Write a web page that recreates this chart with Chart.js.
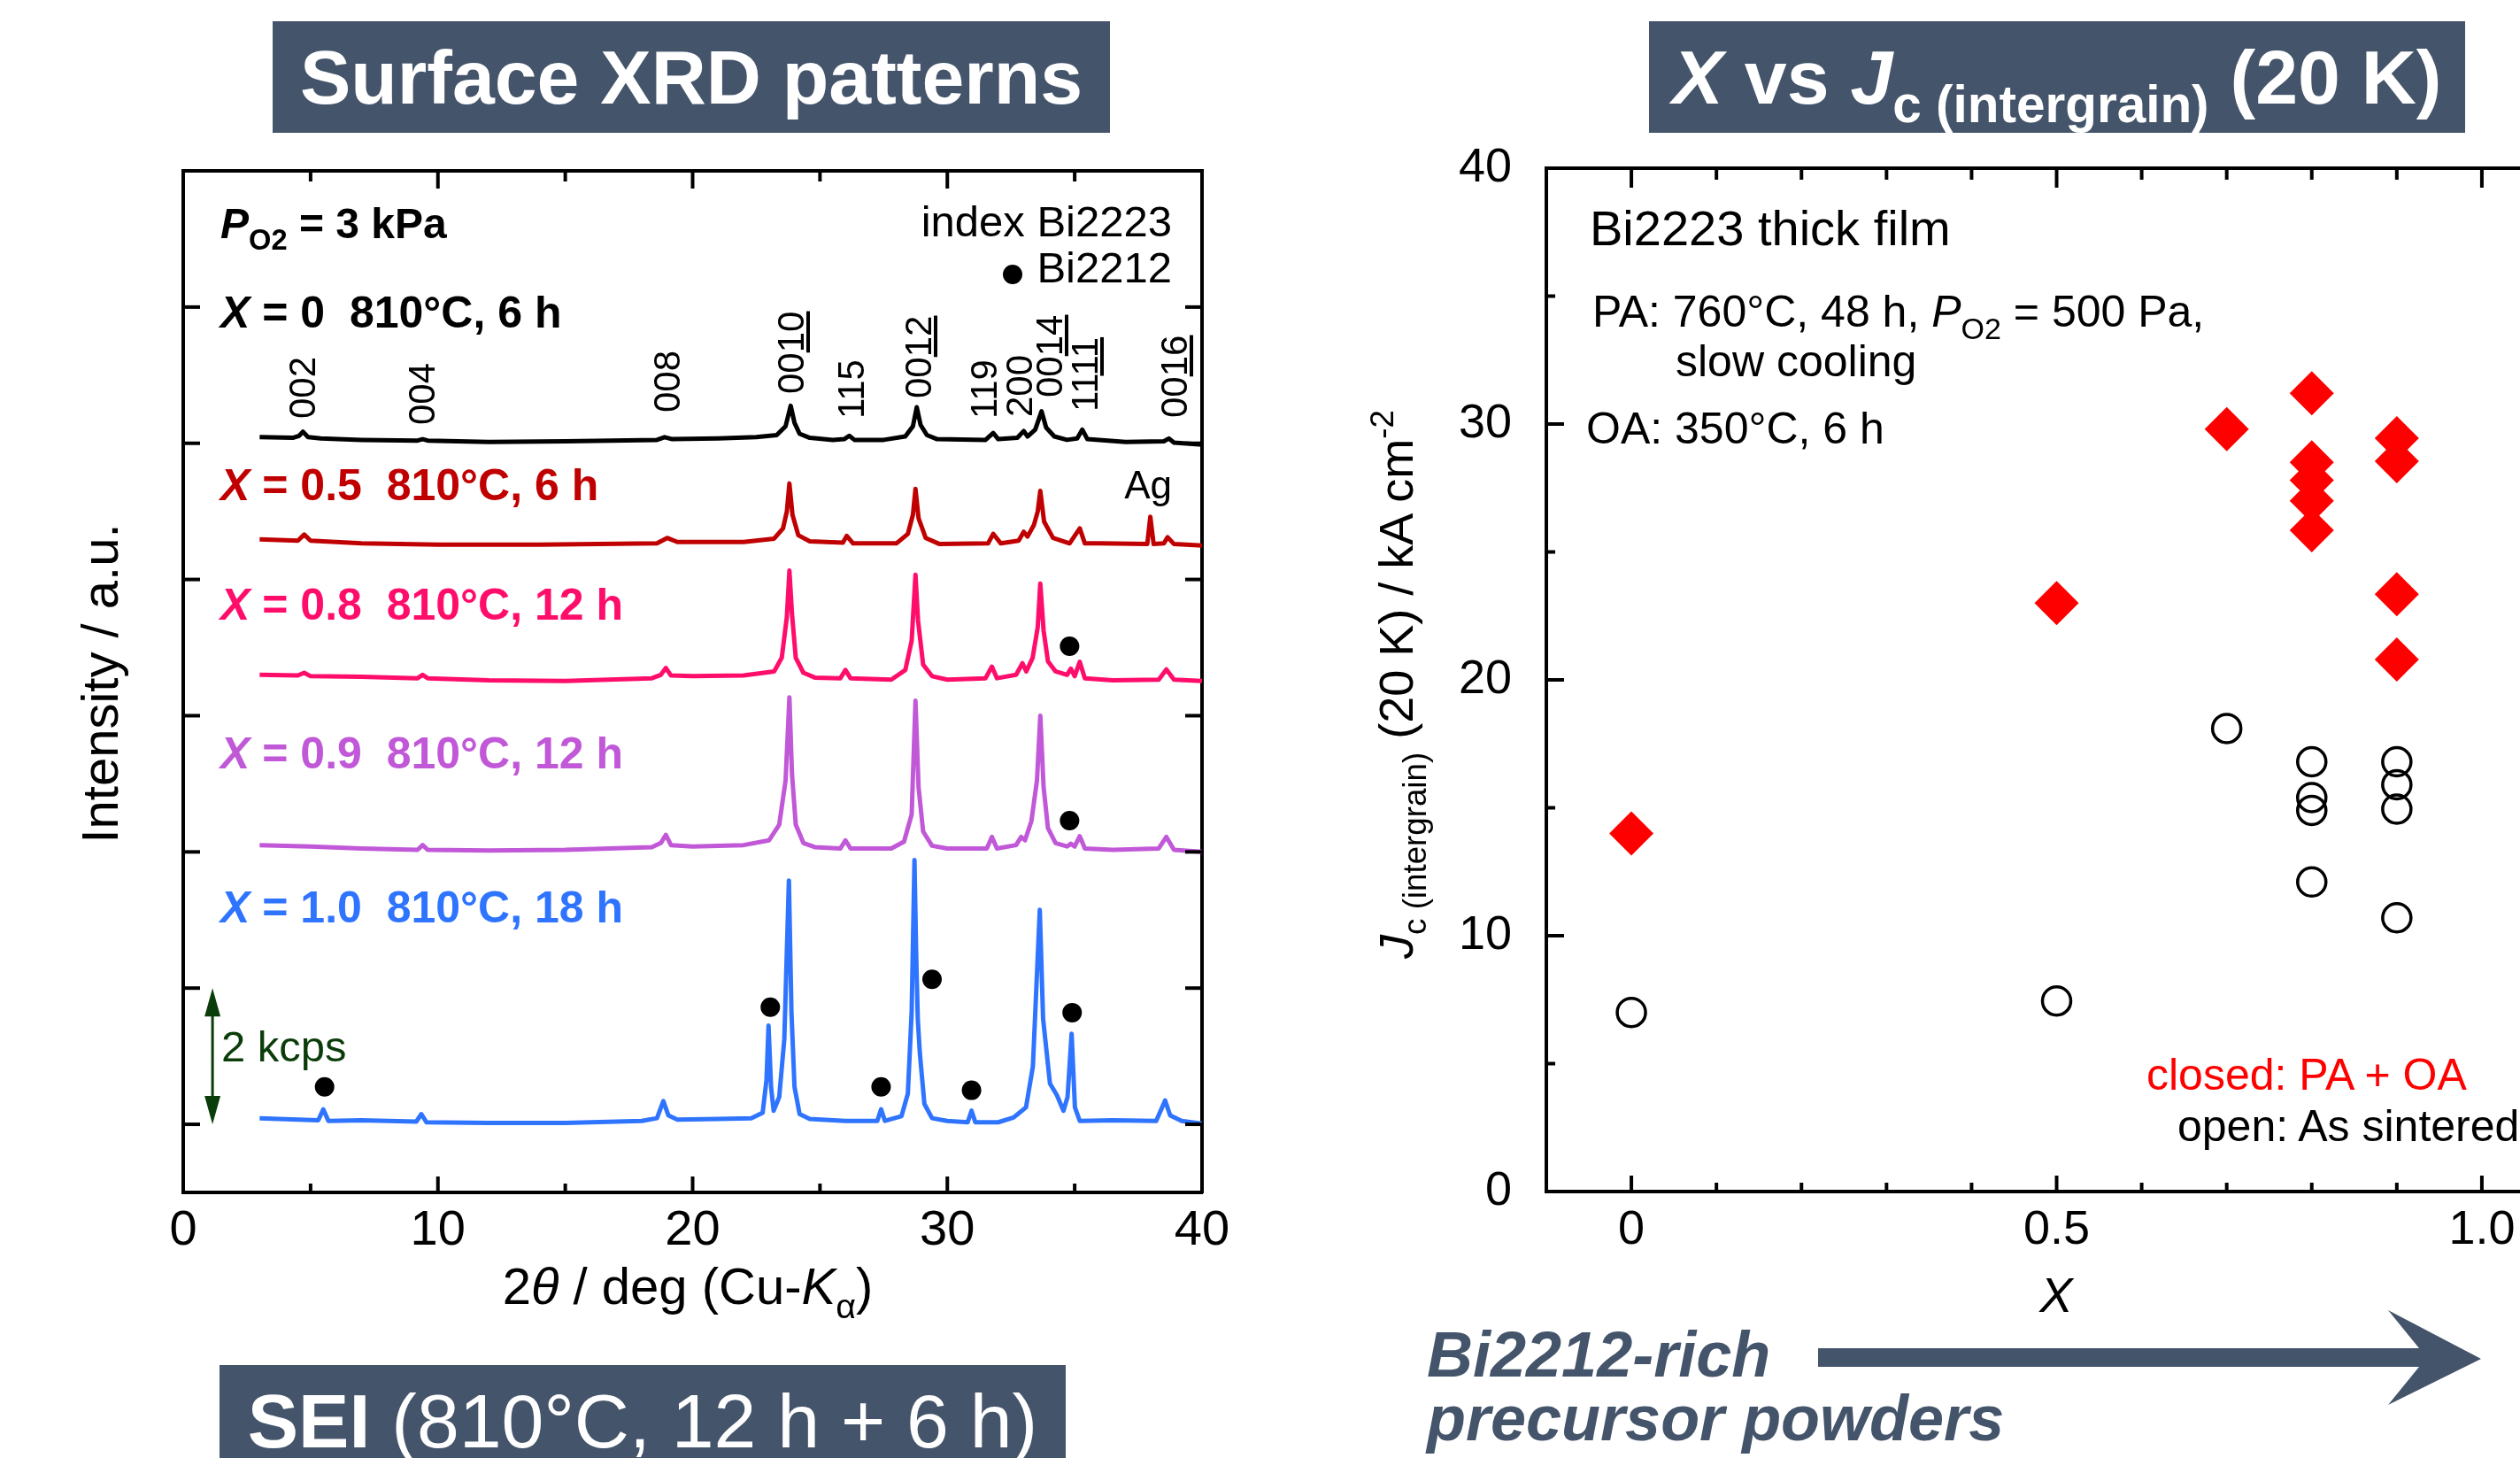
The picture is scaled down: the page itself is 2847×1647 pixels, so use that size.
<!DOCTYPE html>
<html>
<head>
<meta charset="utf-8">
<script src="https://cdn.jsdelivr.net/npm/chart.js@4.4.1/dist/chart.umd.min.js"></script>
<style>
  html, body { margin: 0; padding: 0; background: #fff; }
  #stage { position: relative; width: 2847px; height: 1647px; overflow: hidden; font-family: 'Liberation Sans', Arial, sans-serif; }
  canvas { position: absolute; }
  .t { position: absolute; white-space: nowrap; line-height: 1; color: #000; }
  .t sub { font-size: 0.68em; vertical-align: -0.4em; line-height: 0; }
  .t sup { font-size: 0.68em; vertical-align: 0.6em; line-height: 0; }
  .box { position: absolute; background: #44546a; }
  .dot { display: inline-block; width: 22px; height: 22px; border-radius: 50%; background: #000; vertical-align: -2px; margin-right: 16px; }
</style>
</head>
<body>
<div id="stage">
  <canvas id="xrd" width="1420" height="1420" style="left:0;top:0"></canvas>
  <canvas id="jc" width="1450" height="1420" style="left:1500px;top:0"></canvas>
  <div class="box" style="left:308px;top:24px;width:946px;height:126px"></div>
  <div class="box" style="left:1863px;top:24px;width:922px;height:126px"></div>
  <div class="box" style="left:248px;top:1542px;width:956px;height:140px"></div>
  <svg style="position:absolute;left:0;top:0" width="2847" height="1647">
    <polygon points="2054,1523 2733,1523 2698,1480 2803,1535 2698,1587 2733,1544 2054,1544" fill="#44546a"/>
  </svg>
</div>
<script>
// ---- XRD patterns: [2theta (deg), intensity above own baseline (kcps)]
const patX00 = [[3.0,0.04],[4.3,0.03],[4.55,0.06],[4.7,0.12],[4.9,0.04],[5.4,0.02],[7.0,0.0],[9.2,-0.01],[9.4,0.01],[9.6,-0.01],[12.0,-0.03],[15.0,-0.02],[18.6,0.0],[18.9,0.04],[19.2,0.01],[21.0,0.02],[22.5,0.04],[23.3,0.07],[23.65,0.2],[23.85,0.5],[24.0,0.25],[24.2,0.09],[24.6,0.03],[25.5,0.0],[25.95,0.01],[26.15,0.06],[26.35,0.0],[27.5,0.0],[28.35,0.05],[28.65,0.2],[28.8,0.48],[28.95,0.22],[29.2,0.07],[29.6,0.01],[31.5,0.0],[31.8,0.1],[32.0,0.01],[32.75,0.03],[33.0,0.13],[33.15,0.05],[33.45,0.15],[33.7,0.42],[33.88,0.18],[34.2,0.05],[34.7,0.0],[35.1,0.02],[35.3,0.15],[35.5,0.01],[37.0,-0.03],[38.5,-0.02],[38.7,0.02],[38.9,-0.04],[40.0,-0.07]];
const patX05 = [[3.0,0.04],[4.5,0.02],[4.75,0.11],[5.0,0.02],[7.0,-0.02],[10.0,-0.04],[14.0,-0.04],[18.6,-0.02],[19.0,0.06],[19.4,0.0],[22.0,0.0],[23.2,0.05],[23.55,0.2],[23.7,0.45],[23.8,0.86],[23.92,0.4],[24.15,0.1],[24.6,0.01],[25.9,-0.01],[26.05,0.09],[26.3,-0.02],[28.0,-0.02],[28.45,0.12],[28.65,0.4],[28.75,0.78],[28.87,0.35],[29.15,0.06],[29.7,-0.03],[31.6,-0.02],[31.8,0.12],[32.1,-0.02],[32.8,0.02],[33.0,0.15],[33.15,0.08],[33.4,0.25],[33.55,0.45],[33.65,0.75],[33.8,0.3],[34.15,0.06],[34.8,-0.02],[35.2,0.2],[35.4,-0.02],[36.0,-0.02],[37.85,-0.03],[37.97,0.37],[38.1,-0.03],[38.5,-0.02],[38.65,0.07],[38.9,-0.03],[40.0,-0.05]];
const patX08 = [[3.0,0.05],[4.5,0.04],[4.75,0.08],[5.0,0.03],[7.0,0.02],[9.2,0.0],[9.4,0.05],[9.6,0.0],[12.0,-0.03],[15.0,-0.04],[18.4,0.0],[18.75,0.05],[18.95,0.15],[19.15,0.04],[20.0,0.03],[22.0,0.04],[23.2,0.1],[23.5,0.3],[23.7,0.9],[23.8,1.58],[23.9,0.95],[24.05,0.3],[24.35,0.08],[24.8,0.01],[25.8,0.0],[26.0,0.12],[26.2,0.0],[27.8,-0.02],[28.35,0.12],[28.6,0.55],[28.75,1.52],[28.85,0.85],[29.05,0.2],[29.4,0.03],[30.0,-0.02],[31.5,0.0],[31.75,0.17],[31.95,0.0],[32.7,0.05],[32.95,0.22],[33.1,0.1],[33.35,0.3],[33.55,0.75],[33.65,1.39],[33.78,0.7],[33.95,0.25],[34.25,0.1],[34.7,0.05],[34.85,0.14],[35.0,0.03],[35.2,0.24],[35.4,0.0],[36.5,-0.03],[38.3,-0.02],[38.6,0.13],[38.9,-0.02],[40.0,-0.04]];
const patX09 = [[3.0,0.05],[5.0,0.03],[7.0,0.0],[9.2,-0.02],[9.4,0.05],[9.6,-0.02],[12.0,-0.03],[15.0,-0.02],[18.4,0.02],[18.75,0.08],[18.95,0.2],[19.15,0.05],[20.0,0.03],[22.0,0.05],[23.0,0.12],[23.4,0.35],[23.65,1.0],[23.8,2.22],[23.9,1.1],[24.05,0.35],[24.35,0.08],[24.8,0.02],[25.8,0.0],[26.0,0.12],[26.2,0.0],[27.8,0.0],[28.3,0.1],[28.6,0.5],[28.75,2.17],[28.87,0.9],[29.05,0.25],[29.4,0.04],[30.0,0.0],[31.55,0.0],[31.75,0.17],[31.95,0.0],[32.7,0.05],[32.9,0.17],[33.05,0.12],[33.3,0.4],[33.52,1.0],[33.65,1.95],[33.78,0.9],[33.95,0.3],[34.25,0.08],[34.7,0.03],[34.85,0.07],[35.0,0.03],[35.2,0.18],[35.4,0.0],[36.5,-0.02],[38.3,0.0],[38.6,0.17],[38.9,-0.02],[40.0,-0.05]];
const patX10 = [[3.0,0.04],[5.3,0.01],[5.5,0.17],[5.7,0.0],[7.0,0.01],[9.15,-0.01],[9.35,0.1],[9.55,-0.02],[12.0,-0.03],[15.0,-0.03],[18.0,0.0],[18.6,0.04],[18.85,0.29],[19.05,0.08],[19.4,0.02],[21.0,0.03],[22.3,0.04],[22.75,0.12],[22.9,0.6],[22.98,1.4],[23.08,0.5],[23.18,0.15],[23.4,0.35],[23.6,1.2],[23.78,3.53],[23.88,1.6],[24.0,0.5],[24.2,0.1],[24.6,0.03],[26.0,0.0],[27.25,0.0],[27.4,0.17],[27.55,0.0],[28.2,0.07],[28.45,0.4],[28.6,1.6],[28.71,3.83],[28.78,2.4],[28.84,1.5],[28.92,1.0],[29.1,0.25],[29.4,0.04],[30.0,0.0],[30.8,-0.02],[30.95,0.15],[31.1,-0.02],[32.0,-0.02],[32.6,0.05],[32.83,0.12],[33.09,0.2],[33.36,0.8],[33.63,3.1],[33.76,1.5],[34.03,0.55],[34.3,0.38],[34.56,0.15],[34.72,0.35],[34.88,1.28],[35.01,0.2],[35.2,0.0],[36.5,0.01],[38.2,0.0],[38.55,0.3],[38.75,0.08],[39.2,0.0],[40.0,-0.04]];

const patterns = [patX00, patX05, patX08, patX09, patX10];
const patternOffset = [11.05, 9.55, 7.55, 5.05, 1.05];   // kcps, vertical stacking
const patternColor = ['#000000', '#c00000', '#ff0d6a', '#c158d8', '#2f74ff'];

// Bi2212 reflections marked with a dot (2theta, kcps on the stacked axis)
const bi2212Angle = [34.8, 34.8, 5.55, 23.05, 27.4, 29.4, 30.95, 34.9];
const bi2212Level = [8.02, 5.46, 1.55, 2.72, 1.55, 3.13, 1.5, 2.64];

const xrdXTicks = [0, 5, 10, 15, 20, 25, 30, 35, 40];
const xrdYTicks = [1, 3, 5, 7, 9, 11, 13];

// hkl index labels (Bi2223) and the 2theta they sit over
const hklText = ['002', '004', '008', '00<u>10</u>', '115', '00<u>12</u>', '119', '200', '00<u>14</u>', '11<u>11</u>', '00<u>16</u>'];
const hklAngle = [4.66, 9.38, 19.01, 23.87, 26.24, 28.88, 31.45, 32.84, 34.02, 35.41, 38.92];

// ---- Jc(intergrain) at 20 K vs X
const closedX  = [0, 0.5, 0.7, 0.8, 0.8, 0.8, 0.8, 0.8, 0.9, 0.9, 0.9, 0.9];
const closedJc = [14.0, 23.0, 29.8, 31.2, 28.5, 27.8, 27.0, 25.85, 29.45, 28.55, 23.35, 20.8];
const openX  = [0, 0.5, 0.7, 0.8, 0.8, 0.8, 0.8, 0.9, 0.9, 0.9, 0.9];
const openJc = [7.0, 7.45, 18.1, 16.8, 15.4, 14.9, 12.1, 16.8, 15.9, 14.95, 10.7];

const jcXTicks = [-0.1, 0, 0.1, 0.2, 0.3, 0.4, 0.5, 0.6, 0.7, 0.8, 0.9, 1.0, 1.1];
const jcYTicks = [0, 5, 10, 15, 20, 25, 30, 35, 40];

// ticks drawn inward, majors longer
function inwardTicks(spec) {
  return {
    id: 'inwardTicks',
    afterDraw(chart) {
      const { ctx, chartArea: a } = chart;
      ctx.save();
      ctx.strokeStyle = '#000';
      ctx.lineWidth = 4;
      for (const id in spec) {
        const s = chart.scales[id], sp = spec[id];
        for (const t of s.ticks) {
          const p = s.getPixelForValue(t.value);
          const len = sp.major(t.value) ? sp.long : sp.short;
          ctx.beginPath();
          if (s.position === 'bottom') { ctx.moveTo(p, a.bottom); ctx.lineTo(p, a.bottom - len); }
          else if (s.position === 'top') { ctx.moveTo(p, a.top); ctx.lineTo(p, a.top + len); }
          else if (s.position === 'left') { ctx.moveTo(a.left, p); ctx.lineTo(a.left + len, p); }
          else { ctx.moveTo(a.right, p); ctx.lineTo(a.right - len, p); }
          ctx.stroke();
        }
      }
      ctx.restore();
    }
  };
}

// 2 kcps scale bar
const kcpsBar = {
  id: 'kcpsBar',
  afterDraw(chart) {
    const { ctx } = chart;
    const x = chart.scales.x.getPixelForValue(1.15);
    const y1 = chart.scales.y.getPixelForValue(3), y0 = chart.scales.y.getPixelForValue(1);
    ctx.save();
    ctx.strokeStyle = ctx.fillStyle = '#0b3d0b';
    ctx.lineWidth = 3;
    ctx.beginPath(); ctx.moveTo(x, y1 + 20); ctx.lineTo(x, y0 - 20); ctx.stroke();
    ctx.beginPath(); ctx.moveTo(x, y1); ctx.lineTo(x - 9, y1 + 32); ctx.lineTo(x + 9, y1 + 32); ctx.closePath(); ctx.fill();
    ctx.beginPath(); ctx.moveTo(x, y0); ctx.lineTo(x - 9, y0 - 32); ctx.lineTo(x + 9, y0 - 32); ctx.closePath(); ctx.fill();
    ctx.restore();
  }
};

const FONT = "'Liberation Sans', Arial, sans-serif";
const hideGrid = { drawOnChartArea: false, drawTicks: false };
const blackBorder = { width: 4, color: '#000' };
const setTicks = list => s => { s.ticks = list.map(v => ({ value: v })); };

const xrd = new Chart(document.getElementById('xrd'), {
  type: 'line',
  data: {
    datasets: [
      {
        type: 'scatter',
        data: bi2212Angle.map((a, i) => ({ x: a, y: bi2212Level[i] })),
        pointRadius: 11, backgroundColor: '#000', borderWidth: 0,
        xAxisID: 'x', yAxisID: 'y', order: 0
      },
      ...patterns.map((pat, i) => ({
        data: pat.map(([a, v]) => ({ x: a, y: v + patternOffset[i] })),
        borderColor: patternColor[i], borderWidth: 5, pointRadius: 0,
        borderJoinStyle: 'round', tension: 0, fill: false,
        xAxisID: 'x', yAxisID: 'y', order: 1
      }))
    ]
  },
  options: {
    responsive: false, animation: false,
    plugins: { legend: { display: false }, tooltip: { enabled: false } },
    layout: { padding: 0 },
    scales: {
      x: {
        type: 'linear', position: 'bottom', min: 0, max: 40,
        afterBuildTicks: setTicks(xrdXTicks),
        ticks: { callback: v => (v % 10 === 0 ? String(v) : ''), font: { family: FONT, size: 56 }, color: '#000', padding: 10, maxRotation: 0, autoSkip: false },
        grid: hideGrid, border: blackBorder,
        afterFit: s => { s.height = 73; }
      },
      x2: {
        type: 'linear', position: 'top', min: 0, max: 40,
        afterBuildTicks: setTicks(xrdXTicks),
        ticks: { display: false }, grid: hideGrid, border: blackBorder,
        afterFit: s => { s.height = 193; }
      },
      y: {
        type: 'linear', position: 'left', min: 0, max: 15,
        afterBuildTicks: setTicks(xrdYTicks),
        ticks: { display: false }, grid: hideGrid, border: blackBorder,
        afterFit: s => { s.width = 207; }
      },
      y2: {
        type: 'linear', position: 'right', min: 0, max: 15,
        afterBuildTicks: setTicks(xrdYTicks),
        ticks: { display: false }, grid: hideGrid, border: blackBorder,
        afterFit: s => { s.width = 62; }
      }
    }
  },
  plugins: [inwardTicks({
    x:  { major: v => v % 10 === 0, long: 18, short: 10 },
    x2: { major: v => v % 10 === 0, long: 20, short: 12 },
    y:  { major: () => true, long: 19, short: 19 },
    y2: { major: () => true, long: 19, short: 19 }
  }), kcpsBar]
});

const halfStep = v => Math.abs(v * 2 - Math.round(v * 2)) < 1e-6;
new Chart(document.getElementById('jc'), {
  type: 'scatter',
  data: {
    datasets: [
      {
        data: closedX.map((x, i) => ({ x, y: closedJc[i] })),
        pointStyle: 'rectRot', pointRadius: 25, backgroundColor: '#ff0000', borderColor: '#ff0000', borderWidth: 0,
        xAxisID: 'x', yAxisID: 'y', order: 0
      },
      {
        data: openX.map((x, i) => ({ x, y: openJc[i] })),
        pointStyle: 'circle', pointRadius: 16, backgroundColor: 'rgba(0,0,0,0)', borderColor: '#000', borderWidth: 3.5,
        xAxisID: 'x', yAxisID: 'y', order: 1
      }
    ]
  },
  options: {
    responsive: false, animation: false,
    plugins: { legend: { display: false }, tooltip: { enabled: false } },
    layout: { padding: 0 },
    scales: {
      x: {
        type: 'linear', position: 'bottom', min: -0.1, max: 1.1,
        afterBuildTicks: setTicks(jcXTicks),
        ticks: { callback: v => (v === 0 ? '0' : v === 0.5 ? '0.5' : v === 1 ? '1.0' : ''), font: { family: FONT, size: 54 }, color: '#000', padding: 12, maxRotation: 0, autoSkip: false },
        grid: hideGrid, border: blackBorder,
        afterFit: s => { s.height = 74; }
      },
      x2: {
        type: 'linear', position: 'top', min: -0.1, max: 1.1,
        afterBuildTicks: setTicks(jcXTicks),
        ticks: { display: false }, grid: hideGrid, border: blackBorder,
        afterFit: s => { s.height = 190; }
      },
      y: {
        type: 'linear', position: 'left', min: 0, max: 40,
        afterBuildTicks: setTicks(jcYTicks),
        ticks: { callback: v => (v % 10 === 0 ? String(v) : ''), font: { family: FONT, size: 54 }, color: '#000', padding: 39, autoSkip: false },
        grid: hideGrid, border: blackBorder,
        afterFit: s => { s.width = 247; }
      },
      y2: {
        type: 'linear', position: 'right', min: 0, max: 40,
        afterBuildTicks: setTicks(jcYTicks),
        ticks: { display: false }, grid: hideGrid, border: blackBorder,
        afterFit: s => { s.width = 50; }
      }
    }
  },
  plugins: [inwardTicks({
    x:  { major: halfStep, long: 18, short: 10 },
    x2: { major: halfStep, long: 22, short: 13 },
    y:  { major: v => v % 10 === 0, long: 20, short: 10 },
    y2: { major: v => v % 10 === 0, long: 20, short: 10 }
  })]
});

// ---- text
const stage = document.getElementById('stage');
function txt(html, x, base, size, o = {}) {
  const d = document.createElement('div');
  d.className = 't';
  d.innerHTML = html;
  d.style.fontSize = size + 'px';
  d.style.top = (base - 0.847 * size) + 'px';
  if (o.align === 'right') d.style.right = (2847 - x) + 'px';
  else if (o.align === 'center') { d.style.left = x + 'px'; d.style.transform = 'translateX(-50%)'; }
  else d.style.left = x + 'px';
  if (o.color) d.style.color = o.color;
  if (o.bold) d.style.fontWeight = 'bold';
  if (o.italic) d.style.fontStyle = 'italic';
  stage.appendChild(d);
  return d;
}
function vtxt(html, cx, cy, size) {
  const d = document.createElement('div');
  d.className = 't';
  d.innerHTML = html;
  d.style.fontSize = size + 'px';
  d.style.left = cx + 'px';
  d.style.top = cy + 'px';
  d.style.transform = 'translate(-50%,-50%) rotate(-90deg)';
  stage.appendChild(d);
}

// titles
txt('Surface XRD patterns', 781, 117, 86, { align: 'center', bold: true, color: '#fff' });
txt('<i>X</i> vs <i>J</i><sub style="vertical-align:-0.36em">c (intergrain)</sub> (20 K)', 2324, 117, 86, { align: 'center', bold: true, color: '#fff' });
txt('<b>SEI</b> (810°C, 12 h + 6 h)', 726, 1635, 86, { align: 'center', color: '#fff' });

// XRD axis titles
vtxt('Intensity / a.u.', 113, 772, 58);
txt('2<i>θ</i> / deg (Cu-<i>K</i><sub>α</sub>)', 777, 1473, 58, { align: 'center' });

// XRD annotations
txt('<i>P</i><sub>O2</sub> = 3 kPa', 249, 270, 48, { bold: true });
txt('<i>X</i> = 0&nbsp; 810°C, 6 h', 249, 370, 50, { bold: true });
txt('<i>X</i> = 0.5&nbsp; 810°C, 6 h', 249, 565, 50, { bold: true, color: patternColor[1] });
txt('<i>X</i> = 0.8&nbsp; 810°C, 12 h', 249, 700, 50, { bold: true, color: patternColor[2] });
txt('<i>X</i> = 0.9&nbsp; 810°C, 12 h', 249, 868, 50, { bold: true, color: patternColor[3] });
txt('<i>X</i> = 1.0&nbsp; 810°C, 18 h', 249, 1042, 50, { bold: true, color: patternColor[4] });
txt('index Bi2223', 1324, 268, 49, { align: 'right' });
txt('<span class="dot"></span>Bi2212', 1324, 320, 49, { align: 'right' });
txt('Ag', 1324, 563, 44, { align: 'right' });
txt('2 kcps', 250, 1200, 49, { color: '#0b3d0b' });

const hklBottom = [473, 480, 466, 445, 473, 450, 473, 471, 449, 465, 472];
hklText.forEach((h, i) => {
  const size = 42;
  const d = document.createElement('div');
  d.className = 't';
  d.innerHTML = h;
  d.style.fontSize = size + 'px';
  d.style.left = (xrd.scales.x.getPixelForValue(hklAngle[i]) - 0.49 * size) + 'px';
  d.style.top = hklBottom[i] + 'px';
  d.style.transformOrigin = '0 0';
  d.style.transform = 'rotate(-90deg)';
  stage.appendChild(d);
});

// Jc panel text
vtxt('<i>J</i><sub>c (intergrain)</sub> (20 K) / kA cm<sup>-2</sup>', 1577, 773, 54);
txt('<i>X</i>', 2323, 1482, 56, { align: 'center' });
txt('Bi2223 thick film', 1796, 277, 56);
txt('PA: 760°C, 48 h, <i>P</i><sub>O2</sub> = 500 Pa,', 1799, 369, 50);
txt('slow cooling', 1893, 425, 50);
txt('OA: 350°C, 6 h', 1792, 501, 50);
txt('closed: PA + OA', 2425, 1231, 50, { color: '#ff0000' });
txt('open: As sintered', 2460, 1289, 50);
txt('Bi2212-rich', 1612, 1555, 72, { bold: true, italic: true, color: '#44546a' });
txt('precursor powders', 1612, 1627, 72, { bold: true, italic: true, color: '#44546a' });
</script>
</body>
</html>
